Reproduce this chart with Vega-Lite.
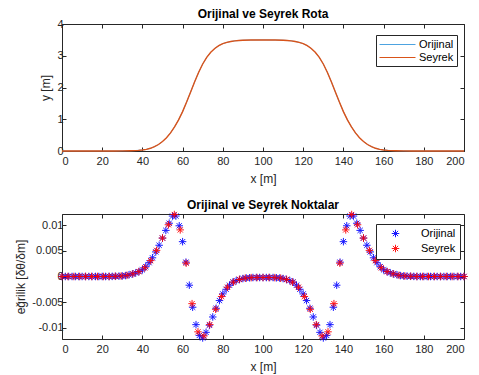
{
  "$schema": "https://vega.github.io/schema/vega-lite/v6.json",
  "background": "white",
  "padding": {"left": 14, "top": 7, "right": 5, "bottom": 3},
  "config": {
    "font": "Liberation Sans",
    "view": {"stroke": "#262626", "strokeWidth": 1},
    "axis": {"labelFontSize": 11, "titleFontSize": 12, "titleFontWeight": "normal", "labelColor": "#262626", "titleColor": "#262626", "tickColor": "#262626", "domain": false, "grid": false, "tickSize": -4, "labelPadding": 3, "titlePadding": 4, "labelFont": "Liberation Sans", "titleFont": "Liberation Sans"},
    "axisX": {"labelPadding": 8, "titlePadding": 7},
    "title": {"fontSize": 12, "fontWeight": "bold", "color": "#000000", "offset": -3, "font": "Liberation Sans"},
    "legend": {"labelFontSize": 11, "labelColor": "#000000", "labelFont": "Liberation Sans"}
  },
  "resolve": {"scale": {"color": "independent"}, "legend": {"color": "independent"}},
  "datasets": {
    "rota": [
      {"x":0,"Orijinal":0,"Seyrek":0},{"x":10,"Orijinal":0,"Seyrek":0},{"x":20,"Orijinal":0,"Seyrek":0},{"x":26,"Orijinal":0.001,"Seyrek":0.001},{"x":30,"Orijinal":0.003,"Seyrek":0.003},{"x":34,"Orijinal":0.008,"Seyrek":0.008},{"x":36,"Orijinal":0.013,"Seyrek":0.013},{"x":38,"Orijinal":0.021,"Seyrek":0.021},{"x":40,"Orijinal":0.033,"Seyrek":0.033},{"x":42,"Orijinal":0.052,"Seyrek":0.052},{"x":44,"Orijinal":0.085,"Seyrek":0.085},{"x":46,"Orijinal":0.135,"Seyrek":0.135},{"x":48,"Orijinal":0.205,"Seyrek":0.205},{"x":50,"Orijinal":0.3,"Seyrek":0.3},{"x":52,"Orijinal":0.42,"Seyrek":0.42},{"x":54,"Orijinal":0.57,"Seyrek":0.57},{"x":56,"Orijinal":0.76,"Seyrek":0.76},{"x":58,"Orijinal":0.98,"Seyrek":0.98},{"x":60,"Orijinal":1.24,"Seyrek":1.24},{"x":62,"Orijinal":1.54,"Seyrek":1.54},{"x":64,"Orijinal":1.86,"Seyrek":1.86},{"x":66,"Orijinal":2.18,"Seyrek":2.18},{"x":68,"Orijinal":2.48,"Seyrek":2.48},{"x":70,"Orijinal":2.74,"Seyrek":2.74},{"x":72,"Orijinal":2.95,"Seyrek":2.95},{"x":74,"Orijinal":3.11,"Seyrek":3.11},{"x":76,"Orijinal":3.23,"Seyrek":3.23},{"x":78,"Orijinal":3.32,"Seyrek":3.32},{"x":80,"Orijinal":3.38,"Seyrek":3.38},{"x":82,"Orijinal":3.42,"Seyrek":3.42},{"x":84,"Orijinal":3.45,"Seyrek":3.45},{"x":86,"Orijinal":3.47,"Seyrek":3.47},{"x":88,"Orijinal":3.48,"Seyrek":3.48},{"x":90,"Orijinal":3.49,"Seyrek":3.49},{"x":94,"Orijinal":3.495,"Seyrek":3.495},{"x":100,"Orijinal":3.5,"Seyrek":3.5},
      {"x":106,"Orijinal":3.495,"Seyrek":3.495},{"x":110,"Orijinal":3.49,"Seyrek":3.49},{"x":112,"Orijinal":3.48,"Seyrek":3.48},{"x":114,"Orijinal":3.47,"Seyrek":3.47},{"x":116,"Orijinal":3.45,"Seyrek":3.45},{"x":118,"Orijinal":3.42,"Seyrek":3.42},{"x":120,"Orijinal":3.38,"Seyrek":3.38},{"x":122,"Orijinal":3.32,"Seyrek":3.32},{"x":124,"Orijinal":3.23,"Seyrek":3.23},{"x":126,"Orijinal":3.11,"Seyrek":3.11},{"x":128,"Orijinal":2.95,"Seyrek":2.95},{"x":130,"Orijinal":2.74,"Seyrek":2.74},{"x":132,"Orijinal":2.48,"Seyrek":2.48},{"x":134,"Orijinal":2.18,"Seyrek":2.18},{"x":136,"Orijinal":1.86,"Seyrek":1.86},{"x":138,"Orijinal":1.54,"Seyrek":1.54},{"x":140,"Orijinal":1.24,"Seyrek":1.24},{"x":142,"Orijinal":0.98,"Seyrek":0.98},{"x":144,"Orijinal":0.76,"Seyrek":0.76},{"x":146,"Orijinal":0.57,"Seyrek":0.57},{"x":148,"Orijinal":0.42,"Seyrek":0.42},{"x":150,"Orijinal":0.3,"Seyrek":0.3},{"x":152,"Orijinal":0.205,"Seyrek":0.205},{"x":154,"Orijinal":0.135,"Seyrek":0.135},{"x":156,"Orijinal":0.085,"Seyrek":0.085},{"x":158,"Orijinal":0.052,"Seyrek":0.052},{"x":160,"Orijinal":0.033,"Seyrek":0.033},{"x":162,"Orijinal":0.021,"Seyrek":0.021},{"x":164,"Orijinal":0.013,"Seyrek":0.013},{"x":166,"Orijinal":0.008,"Seyrek":0.008},{"x":170,"Orijinal":0.003,"Seyrek":0.003},{"x":174,"Orijinal":0.001,"Seyrek":0.001},{"x":180,"Orijinal":0,"Seyrek":0},{"x":190,"Orijinal":0,"Seyrek":0},{"x":200,"Orijinal":0,"Seyrek":0}
    ],
    "orijinal": [
      {"x":0,"Orijinal":0},{"x":1.667,"Orijinal":0},{"x":3.333,"Orijinal":0},{"x":5,"Orijinal":0},{"x":6.667,"Orijinal":0},{"x":8.333,"Orijinal":0},{"x":10,"Orijinal":0},{"x":11.667,"Orijinal":0},{"x":13.333,"Orijinal":0},{"x":15,"Orijinal":0},{"x":16.667,"Orijinal":0},{"x":18.333,"Orijinal":0},{"x":20,"Orijinal":0},{"x":21.667,"Orijinal":0},{"x":23.333,"Orijinal":0},
      {"x":25,"Orijinal":0.00002},{"x":26.667,"Orijinal":0.00004},{"x":28.333,"Orijinal":0.00007},{"x":30,"Orijinal":0.0001},{"x":31.667,"Orijinal":0.00018},{"x":33.333,"Orijinal":0.00033},{"x":35,"Orijinal":0.0005},{"x":36.667,"Orijinal":0.0007},{"x":38.333,"Orijinal":0.00097},{"x":40,"Orijinal":0.0013},{"x":41.667,"Orijinal":0.0019},{"x":43.333,"Orijinal":0.0027},{"x":45,"Orijinal":0.00365},{"x":46.667,"Orijinal":0.0048},{"x":48.333,"Orijinal":0.0061},{"x":50,"Orijinal":0.0075},{"x":51.667,"Orijinal":0.009},{"x":53.333,"Orijinal":0.0104},{"x":55,"Orijinal":0.0118},{"x":56.667,"Orijinal":0.0118},{"x":58.333,"Orijinal":0.0099},{"x":60,"Orijinal":0.0068},{"x":61.667,"Orijinal":0.0028},{"x":63.333,"Orijinal":-0.0017},{"x":65,"Orijinal":-0.006},{"x":66.667,"Orijinal":-0.0094},{"x":68.333,"Orijinal":-0.0115},{"x":70,"Orijinal":-0.012},{"x":71.667,"Orijinal":-0.0109},{"x":73.333,"Orijinal":-0.0095},{"x":75,"Orijinal":-0.0079},{"x":76.667,"Orijinal":-0.0062},{"x":78.333,"Orijinal":-0.0047},{"x":80,"Orijinal":-0.0034},{"x":81.667,"Orijinal":-0.0025},{"x":83.333,"Orijinal":-0.0017},{"x":85,"Orijinal":-0.0011},{"x":86.667,"Orijinal":-0.0008},{"x":88.333,"Orijinal":-0.00057},{"x":90,"Orijinal":-0.0004},{"x":91.667,"Orijinal":-0.0003},{"x":93.333,"Orijinal":-0.00025},{"x":95,"Orijinal":-0.0002},{"x":96.667,"Orijinal":-0.0002},{"x":98.333,"Orijinal":-0.0002},{"x":100,"Orijinal":-0.0002},
      {"x":101.667,"Orijinal":-0.0002},{"x":103.333,"Orijinal":-0.0002},{"x":105,"Orijinal":-0.0002},{"x":106.667,"Orijinal":-0.00025},{"x":108.333,"Orijinal":-0.0003},{"x":110,"Orijinal":-0.0004},{"x":111.667,"Orijinal":-0.00057},{"x":113.333,"Orijinal":-0.0008},{"x":115,"Orijinal":-0.0011},{"x":116.667,"Orijinal":-0.0017},{"x":118.333,"Orijinal":-0.0025},{"x":120,"Orijinal":-0.0034},{"x":121.667,"Orijinal":-0.0047},{"x":123.333,"Orijinal":-0.0062},{"x":125,"Orijinal":-0.0079},{"x":126.667,"Orijinal":-0.0095},{"x":128.333,"Orijinal":-0.0109},{"x":130,"Orijinal":-0.012},{"x":131.667,"Orijinal":-0.0115},{"x":133.333,"Orijinal":-0.0094},{"x":135,"Orijinal":-0.006},{"x":136.667,"Orijinal":-0.0017},{"x":138.333,"Orijinal":0.0028},{"x":140,"Orijinal":0.0068},{"x":141.667,"Orijinal":0.0099},{"x":143.333,"Orijinal":0.0118},{"x":145,"Orijinal":0.0118},{"x":146.667,"Orijinal":0.0104},{"x":148.333,"Orijinal":0.009},{"x":150,"Orijinal":0.0075},{"x":151.667,"Orijinal":0.0061},{"x":153.333,"Orijinal":0.0048},{"x":155,"Orijinal":0.00365},{"x":156.667,"Orijinal":0.0027},{"x":158.333,"Orijinal":0.0019},{"x":160,"Orijinal":0.0013},{"x":161.667,"Orijinal":0.00097},{"x":163.333,"Orijinal":0.0007},{"x":165,"Orijinal":0.0005},{"x":166.667,"Orijinal":0.00033},{"x":168.333,"Orijinal":0.00018},{"x":170,"Orijinal":0.0001},{"x":171.667,"Orijinal":0.00007},{"x":173.333,"Orijinal":0.00004},{"x":175,"Orijinal":0.00002},
      {"x":176.667,"Orijinal":0},{"x":178.333,"Orijinal":0},{"x":180,"Orijinal":0},{"x":181.667,"Orijinal":0},{"x":183.333,"Orijinal":0},{"x":185,"Orijinal":0},{"x":186.667,"Orijinal":0},{"x":188.333,"Orijinal":0},{"x":190,"Orijinal":0},{"x":191.667,"Orijinal":0},{"x":193.333,"Orijinal":0},{"x":195,"Orijinal":0},{"x":196.667,"Orijinal":0},{"x":198.333,"Orijinal":0},{"x":200,"Orijinal":0}
    ],
    "seyrek": [
      {"x":0,"Seyrek":0},{"x":2.941,"Seyrek":0},{"x":5.882,"Seyrek":0},{"x":8.824,"Seyrek":0},{"x":11.765,"Seyrek":0},{"x":14.706,"Seyrek":0},{"x":17.647,"Seyrek":0},{"x":20.588,"Seyrek":0},{"x":23.529,"Seyrek":0},
      {"x":26.471,"Seyrek":0.00004},{"x":29.412,"Seyrek":0.00009},{"x":32.353,"Seyrek":0.00023},{"x":35.294,"Seyrek":0.00053},{"x":38.235,"Seyrek":0.00095},{"x":41.176,"Seyrek":0.0017},{"x":44.118,"Seyrek":0.0031},{"x":47.059,"Seyrek":0.0051},{"x":50,"Seyrek":0.0075},{"x":52.941,"Seyrek":0.0101},{"x":55.882,"Seyrek":0.0121},{"x":58.824,"Seyrek":0.0091},{"x":61.765,"Seyrek":0.0026},{"x":64.706,"Seyrek":-0.0053},{"x":67.647,"Seyrek":-0.0108},{"x":70.588,"Seyrek":-0.0116},{"x":73.529,"Seyrek":-0.0094},{"x":76.471,"Seyrek":-0.0064},{"x":79.412,"Seyrek":-0.0039},{"x":82.353,"Seyrek":-0.0021},{"x":85.294,"Seyrek":-0.0011},{"x":88.235,"Seyrek":-0.00058},{"x":91.176,"Seyrek":-0.00033},{"x":94.118,"Seyrek":-0.00022},{"x":97.059,"Seyrek":-0.0002},{"x":100,"Seyrek":-0.0002},
      {"x":102.941,"Seyrek":-0.0002},{"x":105.882,"Seyrek":-0.00022},{"x":108.824,"Seyrek":-0.00033},{"x":111.765,"Seyrek":-0.00058},{"x":114.706,"Seyrek":-0.0011},{"x":117.647,"Seyrek":-0.0021},{"x":120.588,"Seyrek":-0.0039},{"x":123.529,"Seyrek":-0.0064},{"x":126.471,"Seyrek":-0.0094},{"x":129.412,"Seyrek":-0.0116},{"x":132.353,"Seyrek":-0.0108},{"x":135.294,"Seyrek":-0.0053},{"x":138.235,"Seyrek":0.0026},{"x":141.176,"Seyrek":0.0091},{"x":144.118,"Seyrek":0.0121},{"x":147.059,"Seyrek":0.0101},{"x":150,"Seyrek":0.0075},{"x":152.941,"Seyrek":0.0051},{"x":155.882,"Seyrek":0.0031},{"x":158.824,"Seyrek":0.0017},{"x":161.765,"Seyrek":0.00095},{"x":164.706,"Seyrek":0.00053},{"x":167.647,"Seyrek":0.00023},{"x":170.588,"Seyrek":0.00009},{"x":173.529,"Seyrek":0.00004},
      {"x":176.471,"Seyrek":0},{"x":179.412,"Seyrek":0},{"x":182.353,"Seyrek":0},{"x":185.294,"Seyrek":0},{"x":188.235,"Seyrek":0},{"x":191.176,"Seyrek":0},{"x":194.118,"Seyrek":0},{"x":197.059,"Seyrek":0},{"x":200,"Seyrek":0}
    ]
  },
  "spacing": 13,
  "vconcat": [
    {
      "width": 402,
      "height": 127,
      "title": "Orijinal ve Seyrek Rota",
      "data": {"name": "rota"},
      "transform": [{"fold": ["Orijinal", "Seyrek"], "as": ["seri", "y"]}],
      "layer": [
        {
          "mark": {"type": "line"},
          "encoding": {
            "x": {"field": "x", "type": "quantitative", "scale": {"domain": [0, 200], "nice": false}, "axis": {"title": "x [m]", "values": [0,20,40,60,80,100,120,140,160,180,200], "labelExpr": "'' + datum.value"}},
            "y": {"field": "y", "type": "quantitative", "scale": {"domain": [0, 4], "nice": false}, "axis": {"title": "y [m]", "values": [0,1,2,3,4], "labelExpr": "'' + datum.value"}},
            "strokeWidth": {"field": "seri", "type": "nominal", "scale": {"domain": ["Orijinal", "Seyrek"], "range": [0.8, 1.4]}, "legend": null},
            "color": {"field": "seri", "type": "nominal", "scale": {"domain": ["Orijinal", "Seyrek"], "range": ["#4DA3E0", "#D95319"]},
              "legend": {"orient": "none", "legendX": 314, "legendY": 11, "title": null, "strokeColor": "#262626", "fillColor": "white", "padding": 3, "symbolType": "M-3,0L3,0", "symbolSize": 144, "symbolStrokeWidth": 1, "rowPadding": 1, "symbolOffset": 12, "labelOffset": 15}}
          }
        },
        {
          "mark": {"type": "line", "opacity": 0},
          "encoding": {
            "x": {"field": "x", "type": "quantitative", "axis": {"orient": "top", "title": null, "labels": false, "values": [0,20,40,60,80,100,120,140,160,180,200]}},
            "y": {"field": "y", "type": "quantitative", "axis": {"orient": "right", "title": null, "labels": false, "values": [0,1,2,3,4]}}
          }
        }
      ],
      "resolve": {"axis": {"x": "independent", "y": "independent"}}
    },
    {
      "width": 402,
      "height": 125,
      "title": "Orijinal ve Seyrek Noktalar",
      "layer": [
        {
          "data": {"name": "orijinal"},
          "transform": [{"fold": ["Orijinal"], "as": ["seri", "k"]}],
          "mark": {"type": "point", "shape": "M-1,0L1,0M0,-1L0,1M-0.7,-0.7L0.7,0.7M-0.7,0.7L0.7,-0.7", "filled": false, "strokeWidth": 1, "size": 56, "opacity": 0.9},
          "encoding": {
            "x": {"field": "x", "type": "quantitative", "scale": {"domain": [0, 200], "nice": false}, "axis": {"title": "x [m]", "values": [0,20,40,60,80,100,120,140,160,180,200], "labelExpr": "'' + datum.value"}},
            "y": {"field": "k", "type": "quantitative", "scale": {"domain": [-0.0122, 0.0122], "nice": false, "zero": false}, "axis": {"title": "eğrilik [δθ/δm]", "values": [-0.01,-0.005,0,0.005,0.01], "labelExpr": "'' + datum.value"}},
            "color": {"field": "seri", "type": "nominal", "scale": {"domain": ["Orijinal", "Seyrek"], "range": ["#0000FF", "#FF0000"]},
              "legend": {"orient": "none", "legendX": 314, "legendY": 10, "title": null, "strokeColor": "#262626", "fillColor": "white", "padding": 4, "symbolType": "M-1,0L1,0M0,-1L0,1M-0.7,-0.7L0.7,0.7M-0.7,0.7L0.7,-0.7", "symbolSize": 56, "symbolStrokeWidth": 1, "symbolFillColor": "transparent", "rowPadding": 2, "labelOffset": 20, "symbolOffset": 10}}
          }
        },
        {
          "data": {"name": "seyrek"},
          "transform": [{"fold": ["Seyrek"], "as": ["seri", "k"]}],
          "mark": {"type": "point", "shape": "M-1,0L1,0M0,-1L0,1M-0.7,-0.7L0.7,0.7M-0.7,0.7L0.7,-0.7", "filled": false, "strokeWidth": 1, "size": 56, "opacity": 0.9},
          "encoding": {
            "x": {"field": "x", "type": "quantitative", "axis": null},
            "y": {"field": "k", "type": "quantitative", "axis": null},
            "color": {"field": "seri", "type": "nominal"}
          }
        },
        {
          "data": {"name": "orijinal"},
          "mark": {"type": "point", "opacity": 0},
          "encoding": {
            "x": {"field": "x", "type": "quantitative", "axis": {"orient": "top", "title": null, "labels": false, "values": [0,20,40,60,80,100,120,140,160,180,200]}},
            "y": {"field": "Orijinal", "type": "quantitative", "axis": {"orient": "right", "title": null, "labels": false, "values": [-0.01,-0.005,0,0.005,0.01]}}
          }
        }
      ],
      "resolve": {"axis": {"x": "independent", "y": "independent"}}
    }
  ]
}
